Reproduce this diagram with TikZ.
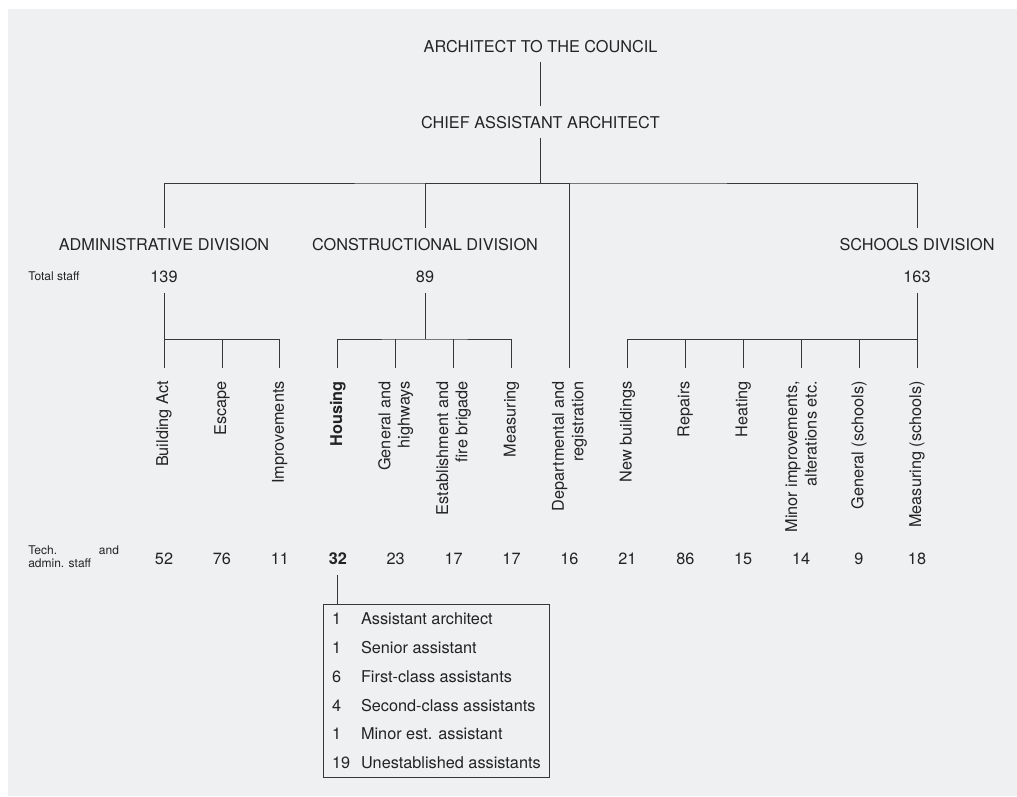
\documentclass[tikz,border=0pt]{standalone}
\usepackage{fontspec}
\setmainfont{TeX Gyre Heros}
\usepackage{xcolor}
\usepackage{tikz}

\definecolor{bggray}{RGB}{239,240,242}
\definecolor{ink}{RGB}{35,35,35}
\definecolor{rulegray}{RGB}{55,55,55}

\newcommand{\mainsize}{\fontsize{12.2pt}{14.6pt}\selectfont}
\newcommand{\smallsize}{\fontsize{9pt}{9.75pt}\selectfont}

\begin{document}
\begin{tikzpicture}[x=0.75pt, y=-0.75pt, every node/.style={
    inner sep=0pt,
    text=ink,
    font=\mainsize,
    %draw,
  },
  head/.style={text height=9pt, text depth=0pt, inner ysep=7pt},
  num/.style={text height=9pt, text depth=0pt, inner ysep=8pt},
  unit/.style={rotate=90, anchor=east, inner xsep=9.75pt, align=right},
  note/.style={anchor=west, font=\smallsize, align=left},
  link/.style={draw=rulegray, line width=0.6pt}]

  \useasboundingbox (0,0) rectangle (1017,796);
  \fill[bggray] (8,9) rectangle (1017,796);

  % top of the chart
  \node[head] (arch) at (540.5,46) {ARCHITECT TO THE COUNCIL};
  \node[head] (chief) at (540.5,122) {CHIEF ASSISTANT ARCHITECT};
  \coordinate (bar) at (540.5,183);

  % divisions
  \node[head] (adm) at (164,244) {ADMINISTRATIVE DIVISION};
  \node[head] (con) at (425,244) {CONSTRUCTIONAL DIVISION};
  \node[head] (sch) at (917,244) {SCHOOLS DIVISION};

  \node[note] (tot) at (28,276) {Total staff};
  \node[num] (t139) at (164,276) {139};
  \node[num] (t89) at (425,276) {89};
  \node[num] (t163) at (917,276) {163};
  \coordinate (adbar) at (164,339);
  \coordinate (cobar) at (425,339);
  \coordinate (scbar) at (917,339);

  % sections
  \node[unit] (u0) at (164,368) {Building Act};
  \node[unit] (u1) at (221.9,368) {Escape};
  \node[unit] (u2) at (279.8,368) {Improvements};
  \node[unit, font=\mainsize\bfseries] (u3) at (337.8,368) {Housing};
  \node[unit] (u4) at (395.7,368) {General and\\highways};
  \node[unit] (u5) at (453.6,368) {Establishment and\\fire brigade};
  \node[unit] (u6) at (511.5,368) {Measuring};
  \node[unit] (u7) at (569.4,368) {Departmental and\\registration};
  \node[unit] (u8) at (627.4,368) {New buildings};
  \node[unit] (u9) at (685.3,368) {Repairs};
  \node[unit] (u10) at (743.2,368) {Heating};
  \node[unit] (u11) at (801.1,368) {Minor improvements,\\alterations etc.};
  \node[unit] (u12) at (859,368) {General (schools)};
  \node[unit] (u13) at (917,368) {Measuring (schools)};

  % staff per section
  \node[note] (tech) at (28,557) {\hbox to 68pt{Tech.\hfill and}\\admin. staff};
  \node[num] (s0) at (164,558) {52};
  \node[num] (s1) at (221.9,558) {76};
  \node[num] (s2) at (279.8,558) {11};
  \node[num, font=\mainsize\bfseries] (s3) at (337.8,558) {32};
  \node[num] (s4) at (395.7,558) {23};
  \node[num] (s5) at (453.6,558) {17};
  \node[num] (s6) at (511.5,558) {17};
  \node[num] (s7) at (569.4,558) {16};
  \node[num] (s8) at (627.4,558) {21};
  \node[num] (s9) at (685.3,558) {86};
  \node[num] (s10) at (743.2,558) {15};
  \node[num] (s11) at (801.1,558) {14};
  \node[num] (s12) at (859,558) {9};
  \node[num] (s13) at (917,558) {18};

  \node[link, anchor=north west, inner xsep=5pt, minimum width=169.5pt] (staff) at (323,604) {%
    \renewcommand{\arraystretch}{1.48}%
    \begin{tabular}{@{}p{21.75pt}@{}l@{}}
      1 & Assistant architect\\
      1 & Senior assistant\\
      6 & First-class assistants\\
      4 & Second-class assistants\\
      1 & Minor est. assistant\\
      19 & Unestablished assistants
    \end{tabular}};

  \draw[link] (arch) -- (chief);
  \draw[link] (chief) -- (bar);
  \draw[link] (adm) |- (bar) -| (sch);
  \draw[link] (bar) -| (con);
  \draw[link] (bar) -| (u7);

  \draw[link] (t139) -- (u0);
  \draw[link] (u1) -- (u1 |- adbar);
  \draw[link] (adbar) -| (u2);

  \draw[link] (t89) -- (cobar);
  \draw[link] (u3) |- (cobar) -| (u6);
  \draw[link] (u4) -- (u4 |- cobar);
  \draw[link] (u5) -- (u5 |- cobar);

  \draw[link] (t163) -- (u13);
  \draw[link] (u8) |- (scbar);
  \draw[link] (u9) -- (u9 |- scbar);
  \draw[link] (u10) -- (u10 |- scbar);
  \draw[link] (u11) -- (u11 |- scbar);
  \draw[link] (u12) -- (u12 |- scbar);

  \draw[link] (s3) -- (s3 |- staff.north);

\end{tikzpicture}
\end{document}
